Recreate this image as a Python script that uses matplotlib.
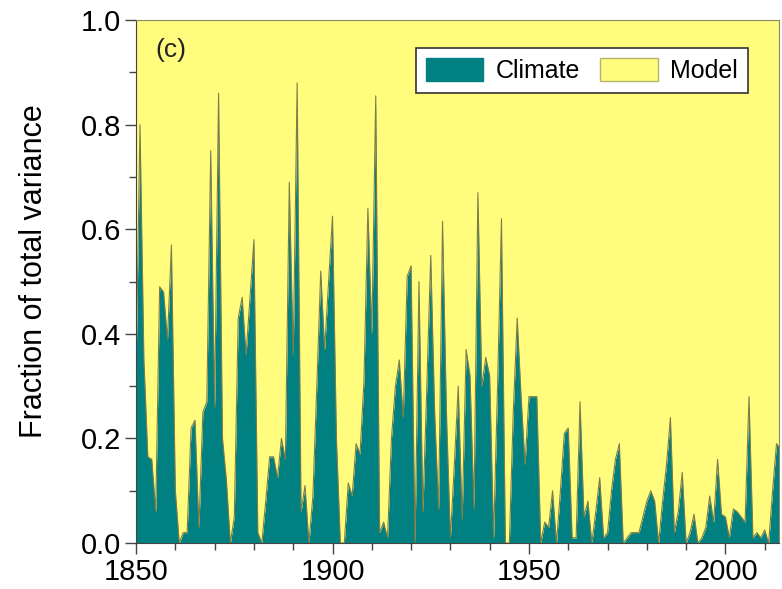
import numpy as np
import matplotlib
matplotlib.use('Agg')
import matplotlib.pyplot as plt
from matplotlib.ticker import MultipleLocator

plt.rcParams['font.family'] = ['Liberation Sans', 'DejaVu Sans']

# yearly fraction of total variance explained by climate (rest is model)
years = list(range(1850, 2015))
climate = [
    0.33, 0.80, 0.35, 0.165, 0.16, 0.06, 0.49, 0.48, 0.39, 0.57,   # 1850s
    0.10, 0.0, 0.02, 0.02, 0.22, 0.235, 0.03, 0.25, 0.27, 0.75,    # 1860s
    0.26, 0.86, 0.20, 0.12, 0.0, 0.05, 0.43, 0.47, 0.36, 0.47,     # 1870s
    0.58, 0.02, 0.0, 0.08, 0.165, 0.165, 0.125, 0.20, 0.16, 0.69,  # 1880s
    0.36, 0.88, 0.06, 0.11, 0.0, 0.09, 0.30, 0.52, 0.37, 0.50,     # 1890s
    0.625, 0.20, 0.0, 0.0, 0.115, 0.09, 0.19, 0.17, 0.31, 0.64,    # 1900s
    0.40, 0.855, 0.02, 0.04, 0.01, 0.20, 0.30, 0.35, 0.24, 0.51,   # 1910s
    0.53, 0.0, 0.50, 0.06, 0.30, 0.55, 0.25, 0.065, 0.615, 0.25,   # 1920s
    0.01, 0.15, 0.30, 0.045, 0.37, 0.32, 0.065, 0.67, 0.30, 0.355, # 1930s
    0.32, 0.01, 0.30, 0.62, 0.0, 0.0, 0.25, 0.43, 0.28, 0.15,      # 1940s
    0.28, 0.28, 0.28, 0.0, 0.04, 0.03, 0.10, 0.0, 0.10, 0.21,      # 1950s
    0.22, 0.01, 0.01, 0.27, 0.05, 0.08, 0.0, 0.06, 0.125, 0.01,    # 1960s
    0.02, 0.10, 0.16, 0.19, 0.0, 0.01, 0.02, 0.02, 0.02, 0.05,     # 1970s
    0.08, 0.10, 0.08, 0.0, 0.08, 0.15, 0.24, 0.02, 0.06, 0.135,    # 1980s
    0.0, 0.02, 0.055, 0.0, 0.01, 0.03, 0.09, 0.04, 0.16, 0.055,    # 1990s
    0.05, 0.01, 0.065, 0.06, 0.05, 0.04, 0.28, 0.01, 0.02, 0.01,   # 2000s
    0.025, 0.0, 0.10, 0.19, 0.18,                                  # 2010s
]

teal = '#008080'
yellow = '#FFFC7E'
edge = '#7d7d45'

fig = plt.figure(figsize=(7.82, 5.89), dpi=100)
ax = fig.add_axes([0.174, 0.078, 0.822, 0.888])

x = np.array(years)
c = np.array(climate)
ax.fill_between(x, 0, c, color=teal, lw=0, label='Climate')
ax.fill_between(x, c, 1, color=yellow, lw=0, label='Model')
ax.plot(x, c, color=edge, lw=0.8)

ax.set_xlim(1850, 2013.6)
ax.set_ylim(0, 1)
ax.xaxis.set_major_locator(MultipleLocator(50))
ax.xaxis.set_minor_locator(MultipleLocator(10))
ax.yaxis.set_major_locator(MultipleLocator(0.2))
ax.yaxis.set_minor_locator(MultipleLocator(0.1))
ax.yaxis.set_major_formatter(plt.FormatStrFormatter('%.1f'))
ax.tick_params(which='major', length=8, width=1, labelsize=21, color='#444444')
ax.tick_params(which='minor', length=5, width=1, color='#444444')
ax.tick_params(axis='x', pad=3)
ax.tick_params(axis='y', pad=3)

for s in ['left', 'bottom']:
    ax.spines[s].set_color('#444444')
for s in ['top', 'right']:
    ax.spines[s].set_color('#8a8a60')
    ax.spines[s].set_linewidth(0.8)

ax.set_ylabel('Fraction of total variance', fontsize=22)
ax.yaxis.set_label_coords(-0.135, 0.52)
ax.text(0.03, 0.965, '(c)', transform=ax.transAxes, fontsize=19,
        va='top', ha='left', color='#222222')

h1 = plt.Rectangle((0, 0), 1, 1, facecolor=teal, edgecolor=teal)
h2 = plt.Rectangle((0, 0), 1, 1, facecolor=yellow, edgecolor='#b5b56a')
leg = ax.legend([h1, h2], ['Climate', 'Model'], loc='upper right',
                bbox_to_anchor=(0.952, 0.946), borderaxespad=0, ncol=2,
                fontsize=18, handlelength=2.3, handleheight=1.0,
                columnspacing=0.8, handletextpad=0.5, fancybox=False,
                framealpha=1, borderpad=0.4)
leg.get_frame().set_edgecolor('#333333')
leg.get_frame().set_linewidth(1.2)

plt.savefig('out.png', dpi=100)
